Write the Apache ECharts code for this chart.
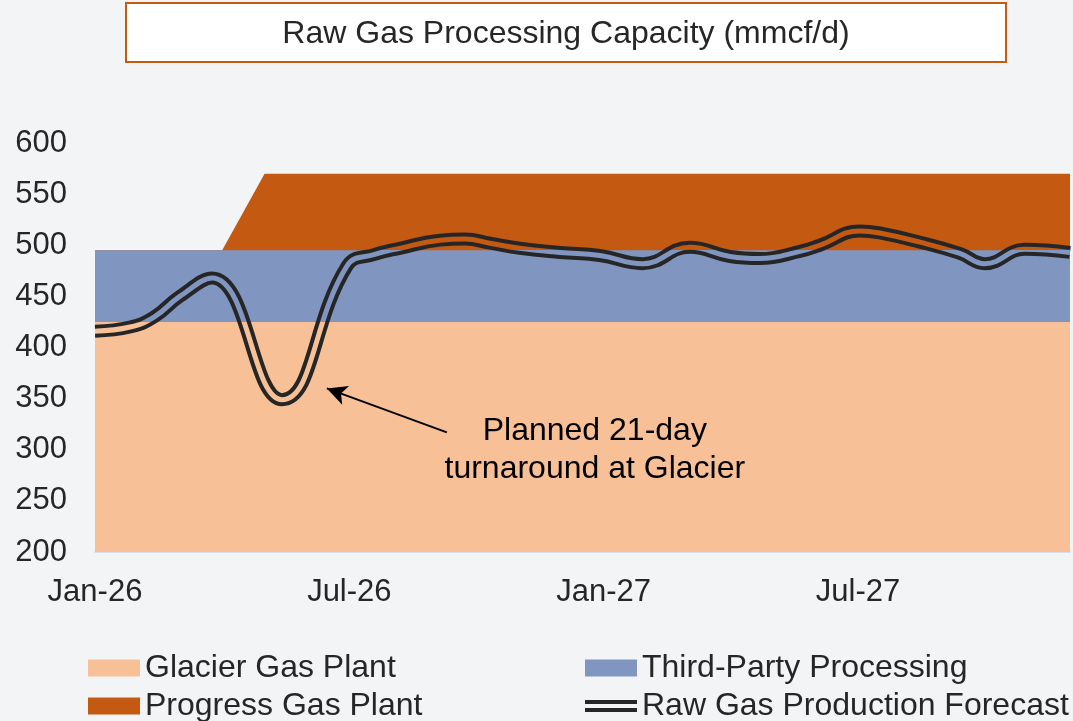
<!DOCTYPE html>
<html>
<head>
<meta charset="utf-8">
<script src="https://cdn.jsdelivr.net/npm/echarts@6/dist/echarts.min.js"></script>
<style>
html, body { margin: 0; padding: 0; background: #F3F4F6; }
#main { width: 1073px; height: 721px; }
</style>
</head>
<body>
<div id="main"></div>
<script>
// month index 0 = Jan-26
const monthLabels = ['Jan-26', 'Feb-26', 'Mar-26', 'Apr-26', 'May-26', 'Jun-26', 'Jul-26', 'Aug-26',
    'Sep-26', 'Oct-26', 'Nov-26', 'Dec-26', 'Jan-27', 'Feb-27', 'Mar-27', 'Apr-27', 'May-27', 'Jun-27',
    'Jul-27', 'Aug-27', 'Sep-27', 'Oct-27', 'Nov-27', 'Dec-27']

// capacity by source (mmcf/d)
const areaMonths = [0, 3, 4, 23]
const glacierGas = [425, 425, 425, 425]
const thirdParty = [70, 70, 70, 70]
const progressGas = [0, 0, 75, 75]

// raw gas production forecast
const forecastMonths = [0, 0.83, 1.4, 2.0, 2.76, 4.41, 5.95, 6.6, 7.19, 8.14,
    8.73, 9.32, 10.02, 10.97, 11.91, 12.92, 14.03, 14.98, 15.68, 16.63, 17.1, 18.04, 18.51, 19.46,
    20.4, 20.99, 21.93, 23]
const forecastValues = [416, 420, 430, 450, 468, 349, 480, 491, 497, 505,
    506, 502, 497, 493, 490, 482, 498, 489, 487, 494, 500, 514, 512, 503, 492, 482, 496, 493]

const colors = {
    glacier: '#F8C096',
    third: '#8096C0',
    progress: '#C45A11',
    text: '#262626'
}
const font = "'Liberation Sans', Arial, sans-serif"

const pairs = (xs, ys) => xs.map((x, i) => [x, ys[i]])
// running totals so each band is painted from the axis up, top band first
const topThird = glacierGas.map((v, i) => v + thirdParty[i])
const topProgress = topThird.map((v, i) => v + progressGas[i])

const chart = echarts.init(document.getElementById('main'))

const areaSeries = function (name, data, color, z) {
    return {
        name: name,
        type: 'line',
        data: pairs(areaMonths, data),
        symbol: 'none',
        lineStyle: { width: 0 },
        itemStyle: { color: color },
        areaStyle: { color: color, opacity: 1, origin: 'start' },
        z: z
    }
}

const legendBase = {
    orient: 'vertical',
    top: 651,
    height: 80,
    padding: 0,
    itemWidth: 52,
    itemHeight: 17,
    itemGap: 4,
    textStyle: { fontSize: 32, color: colors.text, fontFamily: font, lineHeight: 34 }
}

let option = {
    backgroundColor: '#F3F4F6',
    animation: false,
    textStyle: { fontFamily: font },
    grid: { left: 95, right: 3, top: 143, bottom: 169 },
    xAxis: {
        type: 'value',
        min: 0,
        max: 23,
        interval: 6,
        splitLine: { show: false },
        axisTick: { show: false },
        axisLine: { show: true, lineStyle: { color: '#D9DEE8', width: 2 } },
        axisLabel: {
            margin: 25,
            fontSize: 31,
            color: colors.text,
            fontFamily: font,
            formatter: v => (v % 6 === 0 ? monthLabels[v] : '')
        }
    },
    yAxis: {
        type: 'value',
        min: 200,
        max: 600,
        interval: 50,
        splitLine: { show: false },
        axisLine: { show: false },
        axisTick: { show: false },
        axisLabel: { margin: 28, fontSize: 31, color: colors.text, fontFamily: font }
    },
    legend: [
        Object.assign({}, legendBase, {
            left: 88,
            data: [{ name: 'Glacier Gas Plant', icon: 'rect' }, { name: 'Progress Gas Plant', icon: 'rect' }]
        }),
        Object.assign({}, legendBase, {
            left: 585,
            data: [
                { name: 'Third-Party Processing', icon: 'rect' },
                { name: 'Raw Gas Production Forecast', icon: 'path://M0,2H52V6H0Z M0,10H52V14H0Z M0,0H0.01V16H0Z' }
            ]
        })
    ],
    series: [
        areaSeries('Progress Gas Plant', topProgress, colors.progress, 1),
        areaSeries('Third-Party Processing', topThird, colors.third, 2),
        areaSeries('Glacier Gas Plant', glacierGas, colors.glacier, 3),
        {
            name: 'Raw Gas Production Forecast',
            type: 'line',
            data: pairs(forecastMonths, forecastValues),
            smooth: 0.45,
            symbol: 'none',
            itemStyle: { color: '#262626' },
            lineStyle: { color: '#262626', width: 13 },
            z: 5,
            markLine: {
                silent: true,
                symbol: ['none', 'arrow'],
                symbolSize: [15, 20],
                label: { show: false },
                lineStyle: { color: '#000', width: 2, type: 'solid' },
                data: [[{ coord: [8.3, 317] }, { coord: [5.47, 360] }]]
            }
        },
        {
            // inner gap of the double line, painted with whatever sits beneath it
            name: 'forecast-gap',
            type: 'line',
            data: pairs(forecastMonths, forecastValues),
            smooth: 0.45,
            symbol: 'none',
            lineStyle: { color: colors.third, width: 5 },
            z: 6
        }
    ]
}
chart.setOption(option)

// colour the inner line band by band, and place the texts
const H = 721
const y495 = chart.convertToPixel({ gridIndex: 0 }, [0, 495])[1]
const y425 = chart.convertToPixel({ gridIndex: 0 }, [0, 425])[1]
const gap = new echarts.graphic.LinearGradient(0, 0, 0, H, [
    { offset: 0, color: colors.progress },
    { offset: y495 / H, color: colors.progress },
    { offset: y495 / H, color: colors.third },
    { offset: y425 / H, color: colors.third },
    { offset: y425 / H, color: colors.glacier },
    { offset: 1, color: colors.glacier }
], true)
const note = chart.convertToPixel({ gridIndex: 0 }, [11.79, 300])

chart.setOption({
    series: [{}, {}, {}, {}, { lineStyle: { color: gap } }],
    graphic: [{
        type: 'rect',
        shape: { x: 126, y: 3, width: 880, height: 59 },
        style: { fill: '#fff', stroke: '#C55A11', lineWidth: 2 }
    }, {
        type: 'text',
        x: 566,
        y: 34,
        style: {
            text: 'Raw Gas Processing Capacity (mmcf/d)',
            font: '32px ' + font,
            fill: colors.text,
            align: 'center',
            verticalAlign: 'middle'
        }
    }, {
        type: 'text',
        x: note[0],
        y: note[1],
        z: 10,
        style: {
            text: 'Planned 21-day\nturnaround at Glacier',
            font: '32px ' + font,
            lineHeight: 38,
            fill: '#000',
            align: 'center',
            verticalAlign: 'middle'
        }
    }]
})
</script>
</body>
</html>
